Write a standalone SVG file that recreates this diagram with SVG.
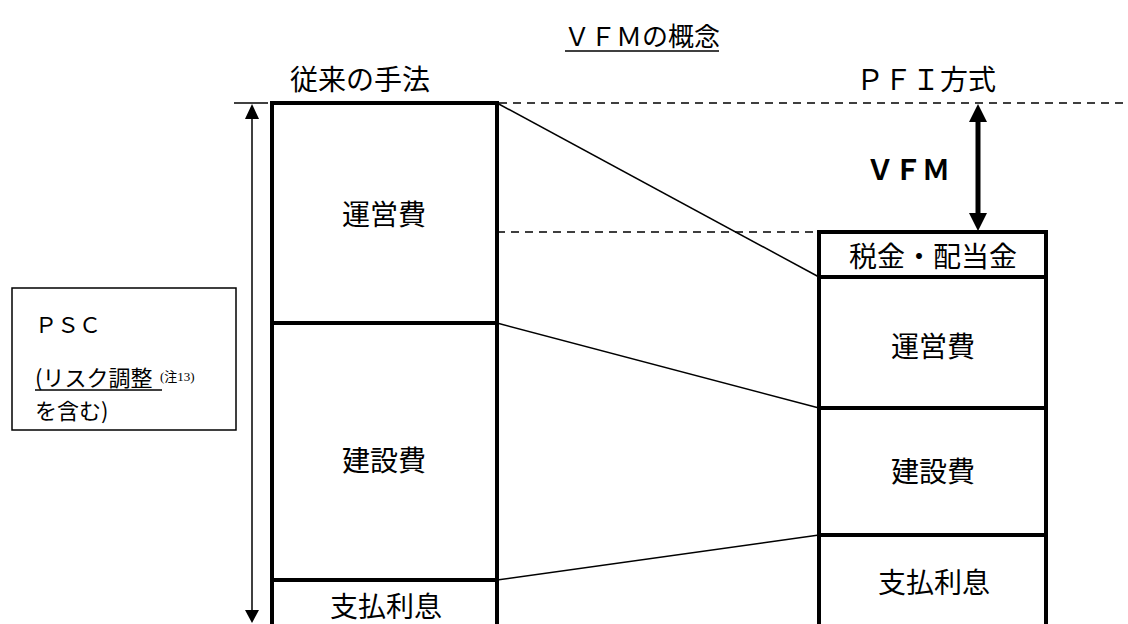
<svg xmlns="http://www.w3.org/2000/svg" width="1128" height="624" viewBox="0 0 1128 624">
<style>
.t{font-family:"Noto Sans CJK JP","Noto Sans",sans-serif;fill:#000}
.big{font-size:28px}
.mid{font-size:22px}
.box{fill:#fff;stroke:#000;stroke-width:4}
.div{stroke:#000;stroke-width:4}
.thin{stroke:#000;stroke-width:1.5;fill:none}
.dash{stroke:#000;stroke-width:1.5;stroke-dasharray:8 6;fill:none}
</style>
<rect width="1128" height="624" fill="#fff"/>
<g id="title">
<text class="t" x="642" y="46" text-anchor="middle" font-size="26">ＶＦＭの概念</text>
<line x1="565" y1="51" x2="719" y2="51" stroke="#000" stroke-width="1.5"/>
</g>
<g id="connectors">
<line class="dash" x1="499" y1="103" x2="1128" y2="103"/>
<line class="dash" x1="497" y1="232" x2="819" y2="232"/>
<line class="thin" x1="497" y1="103" x2="819" y2="277"/>
<line class="thin" x1="497" y1="323" x2="819" y2="408"/>
<line class="thin" x1="497" y1="580" x2="819" y2="535"/>
<line class="thin" x1="234" y1="103" x2="268" y2="103"/>
<line class="thin" x1="252" y1="115" x2="252" y2="612"/>
<polygon points="252,104 245,119 259,119" fill="#000"/>
<polygon points="252,623 245,610 259,610" fill="#000"/>
<line x1="978" y1="118" x2="978" y2="216" stroke="#000" stroke-width="5"/>
<polygon points="978,104 969,122 987,122" fill="#000"/>
<polygon points="978,231 969,213 987,213" fill="#000"/>
</g>
<g id="label-conventional"><text class="t big" x="290" y="90">従来の手法</text></g>
<g id="label-pfi"><text class="t big" x="856" y="90">ＰＦＩ方式</text></g>
<g id="label-vfm"><text class="t big" x="866" y="180" font-weight="bold">ＶＦＭ</text></g>
<g id="psc">
<rect x="12" y="288" width="224" height="142" fill="#fff" stroke="#000" stroke-width="1.5"/>
<text class="t mid" x="35" y="333">ＰＳＣ</text>
<text class="t mid" x="35" y="386">(リスク調整</text>
<line x1="35" y1="390" x2="162" y2="390" stroke="#000" stroke-width="1.5"/>
<text x="160" y="381" font-family="Liberation Serif,Noto Sans CJK JP,serif" font-size="13">(注13)</text>
<text class="t mid" x="35" y="419">を含む)</text>
</g>
<g id="conventional">
<rect class="box" x="272" y="103" width="225" height="540"/>
<line class="div" x1="272" y1="323" x2="497" y2="323"/>
<line class="div" x1="272" y1="580" x2="497" y2="580"/>
<text class="t big" x="384" y="225" text-anchor="middle">運営費</text>
<text class="t big" x="384" y="471" text-anchor="middle">建設費</text>
<text class="t big" x="386" y="617" text-anchor="middle">支払利息</text>
</g>
<g id="pfi">
<rect class="box" x="819" y="232" width="227" height="410"/>
<line class="div" x1="819" y1="277" x2="1046" y2="277"/>
<line class="div" x1="819" y1="408" x2="1046" y2="408"/>
<line class="div" x1="819" y1="535" x2="1046" y2="535"/>
<text class="t big" x="933" y="267" text-anchor="middle">税金・配当金</text>
<text class="t big" x="933" y="357" text-anchor="middle">運営費</text>
<text class="t big" x="933" y="482" text-anchor="middle">建設費</text>
<text class="t big" x="934" y="593" text-anchor="middle">支払利息</text>
</g>
</svg>
